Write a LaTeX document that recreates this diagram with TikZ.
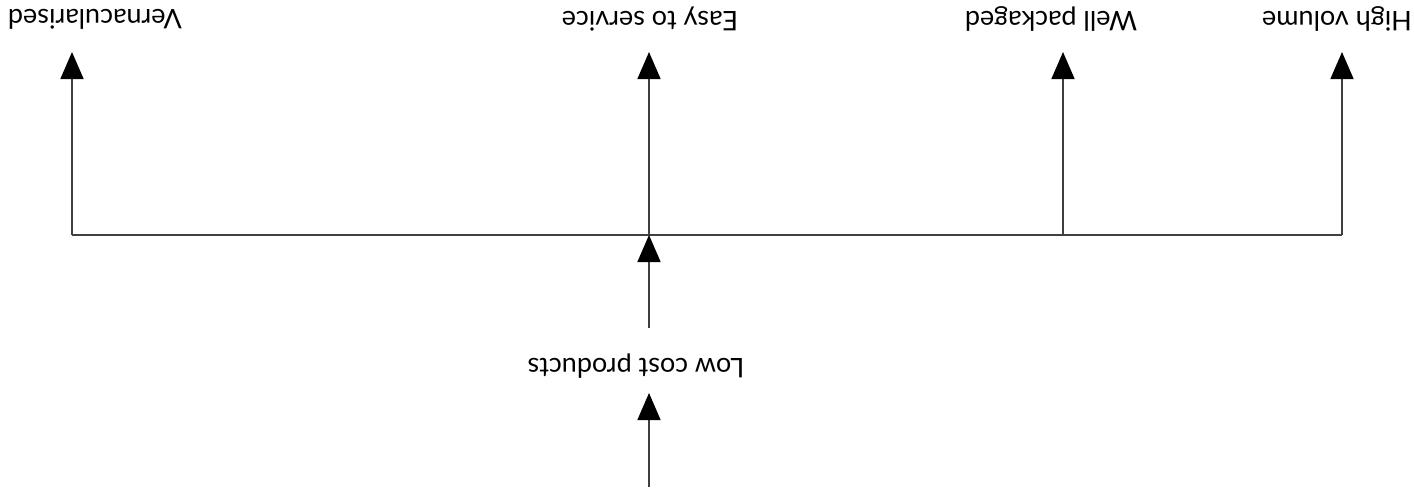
\documentclass[tikz,border=0pt]{standalone}
\usepackage{fontspec}
\setmainfont{Lato}
\usetikzlibrary{arrows.meta}
\begin{document}
\begin{tikzpicture}[x=1pt,y=-1pt,
  lbl/.style={rotate=180,inner sep=0pt,font=\fontsize{27}{30}\selectfont},
  ln/.style={line width=1.5pt,draw=black!75},
  arr/.style={ln,-{Triangle[length=27pt,width=23pt,fill=black,color=black]}}]
\useasboundingbox (0,0) rectangle (1414,490);
\node[lbl] (v) at (95,19) {Vernacularised};
\node[lbl] (e) at (650,19) {Easy to service};
\node[lbl] (w) at (1051,19) {Well packaged};
\node[lbl] (h) at (1337,19) {High volume};
\node[lbl] (l) at (636,366) {Low cost products};
\coordinate (jv) at (72,235);
\coordinate (je) at (649,235);
\coordinate (jw) at (1063,235);
\coordinate (jh) at (1342,235);
\coordinate (src) at (649,487);
\coordinate (lt) at (649,393);
\coordinate (lb) at (649,328);
\draw[ln] (jv) -- (jh);
\draw[arr] (jv) -- (jv |- 0,52);
\draw[arr] (je) -- (je |- 0,52);
\draw[arr] (jw) -- (jw |- 0,52);
\draw[arr] (jh) -- (jh |- 0,52);
\draw[arr] (lb) -- (je);
\draw[arr] (src) -- (lt);
\end{tikzpicture}
\end{document}
